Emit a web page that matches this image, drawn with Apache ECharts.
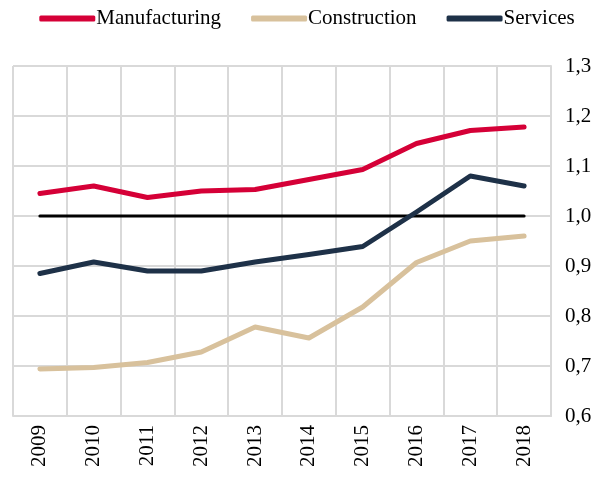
<!DOCTYPE html>
<html>
<head>
<meta charset="utf-8">
<script src="https://cdn.jsdelivr.net/npm/echarts@6/dist/echarts.min.js"></script>
<style>
  html, body { margin: 0; padding: 0; background: #fff; }
  #chart { width: 614px; height: 477px; }
</style>
</head>
<body>
<div id="chart"></div>
<script>
// data
var years = ['2009', '2010', '2011', '2012', '2013', '2014', '2015', '2016', '2017', '2018'];
var manufacturing = [1.045, 1.060, 1.037, 1.050, 1.053, 1.073, 1.093, 1.145, 1.171, 1.178];
var construction = [0.694, 0.697, 0.707, 0.728, 0.778, 0.756, 0.818, 0.907, 0.950, 0.960];
var services = [0.885, 0.908, 0.890, 0.890, 0.908, 0.923, 0.939, 1.008, 1.080, 1.060];
var baseline = [1, 1, 1, 1, 1, 1, 1, 1, 1, 1];

var font = 'Liberation Serif';

var chart = echarts.init(document.getElementById('chart'));

function lineSeries(name, data, color, width) {
  return {
    name: name,
    type: 'line',
    data: data,
    symbol: 'none',
    animation: false,
    lineStyle: { color: color, width: width, cap: 'round', join: 'round' },
    itemStyle: { color: color }
  };
}

var option = {
  backgroundColor: '#fff',
  textStyle: { fontFamily: font },
  legend: {
    top: 3,
    left: 'center',
    itemWidth: 56,
    itemHeight: 6,
    itemGap: 30,
    icon: 'roundRect',
    textStyle: { fontFamily: font, fontSize: 21, color: '#000', padding: [0, 0, 0, -4] },
    data: ['Manufacturing', 'Construction', 'Services']
  },
  grid: { left: 13, right: 63, top: 66, bottom: 61, containLabel: false },
  xAxis: {
    type: 'category',
    data: years,
    boundaryGap: true,
    axisLine: { show: true, lineStyle: { color: '#d9d9d9', width: 2 } },
    axisTick: { show: false },
    splitLine: { show: true, lineStyle: { color: '#d9d9d9', width: 2 } },
    axisLabel: { rotate: 90, color: '#000', fontSize: 21, fontFamily: font, margin: 9 }
  },
  yAxis: {
    type: 'value',
    position: 'right',
    min: 0.6,
    max: 1.3,
    interval: 0.1,
    axisLine: { show: true, lineStyle: { color: '#d9d9d9', width: 2 } },
    axisTick: { show: false },
    splitLine: { show: true, lineStyle: { color: '#d9d9d9', width: 2 } },
    axisLabel: {
      color: '#000',
      fontSize: 21,
      fontFamily: font,
      margin: 14,
      formatter: function (v) { return v.toFixed(1).replace('.', ','); }
    }
  },
  series: [
    lineSeries('baseline', baseline, '#000000', 3),
    lineSeries('Construction', construction, '#d8c19c', 5),
    lineSeries('Services', services, '#1e3148', 5),
    lineSeries('Manufacturing', manufacturing, '#d50037', 5)
  ]
};

chart.setOption(option);
</script>
</body>
</html>
